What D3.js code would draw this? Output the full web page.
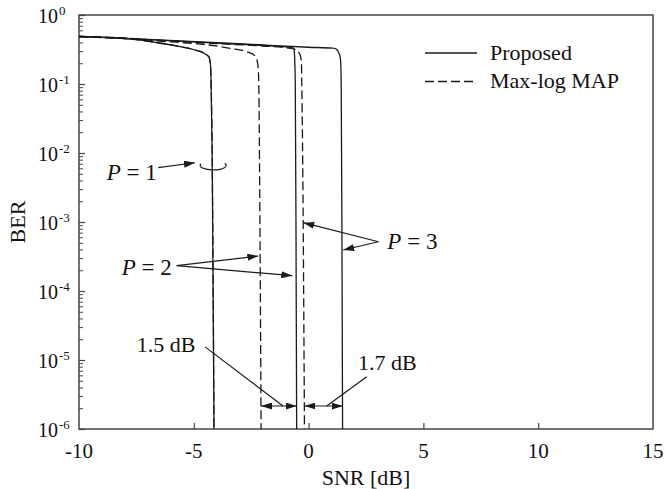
<!DOCTYPE html>
<html>
<head>
<meta charset="utf-8">
<script src="https://cdn.jsdelivr.net/npm/d3@7"></script>
<style>
  html, body { margin: 0; padding: 0; background: #fff; }
  svg { display: block; }
  text { font-family: "Liberation Serif", "Times New Roman", serif; fill: #111; }
</style>
</head>
<body>
<svg id="chart" width="665" height="489"></svg>
<script>
// Axis ticks
const snrTicks = [-10, -5, 0, 5, 10, 15];
const berTickExps = [0, -1, -2, -3, -4, -5, -6];

// BER versus SNR [dB] curves (P = number of parallel paths)
// P = 1: proposed and Max-log MAP coincide
const snrP1 = [-10, -7.8, -6.5, -5.6, -4.95, -4.5, -4.34, -4.28, -4.25, -4.2, -4.12];
const berP1 = [0.485, 0.45, 0.393, 0.347, 0.311, 0.272, 0.246, 0.2, 0.12, 1e-2, 1e-6];

const snrP2MaxLog = [-10, -8, -6.34, -5.6, -4.73, -3.42, -2.70, -2.33, -2.23, -2.19, -2.17, -2.12, -2.07];
const berP2MaxLog = [0.485, 0.464, 0.415, 0.40, 0.38, 0.329, 0.294, 0.255, 0.208, 0.16, 0.1, 1e-3, 1e-6];

const snrP2Proposed = [-10, -7, -4, -2, -1, -0.67, -0.62, -0.6, -0.58, -0.55, -0.52];
const berP2Proposed = [0.49, 0.44, 0.392, 0.362, 0.345, 0.333, 0.29, 0.2, 0.1, 1e-3, 1e-6];

const snrP3MaxLog = [-10, -7, -4, -2, -1, -0.55, -0.42, -0.35, -0.31, -0.30, -0.26, -0.18];
const berP3MaxLog = [0.485, 0.44, 0.385, 0.355, 0.335, 0.315, 0.285, 0.25, 0.2, 0.12, 1e-2, 1e-6];

const snrP3Proposed = [-10, -7, -4, -2, 0, 1.06, 1.22, 1.32, 1.37, 1.40, 1.42, 1.45, 1.48];
const berP3Proposed = [0.495, 0.444, 0.398, 0.368, 0.341, 0.33, 0.318, 0.28, 0.25, 0.2, 0.1, 1e-3, 1e-6];

const legendLabels = ["Proposed", "Max-log MAP"];

// ---------------------------------------------------------------
const svg = d3.select("#chart");
const plot = { left: 79, right: 653, top: 15, bottom: 429 };

const x = d3.scaleLinear().domain([-10, 15]).range([plot.left, plot.right]);
const y = d3.scaleLog().domain([1e-6, 1]).range([plot.bottom, plot.top]);
const yExp = e => y(Math.pow(10, e));   // position from log10(BER)

const ink = "#1a1a1a";
const frameInk = "#444";

// arrowhead marker
const defs = svg.append("defs");
defs.append("marker")
  .attr("id", "head")
  .attr("markerUnits", "userSpaceOnUse")
  .attr("viewBox", "0 0 11 7")
  .attr("markerWidth", 11).attr("markerHeight", 7)
  .attr("refX", 11).attr("refY", 3.5)
  .attr("orient", "auto-start-reverse")
  .append("path").attr("d", "M0,0 L11,3.5 L0,7 Z").attr("fill", ink);

defs.append("clipPath").attr("id", "clip")
  .append("rect")
  .attr("x", plot.left).attr("y", plot.top)
  .attr("width", plot.right - plot.left).attr("height", plot.bottom - plot.top);

// ---- axes: inward ticks on bottom and left ----
const xAxis = d3.axisBottom(x)
  .tickValues(snrTicks.slice(1, -1))
  .tickSizeInner(-6).tickSizeOuter(0)
  .tickFormat("");
svg.append("g").attr("transform", `translate(0,${plot.bottom})`).call(xAxis)
  .call(g => g.select(".domain").remove())
  .call(g => g.selectAll("line").attr("stroke", frameInk).attr("stroke-width", 1.2));

const majorBer = berTickExps.map(e => Math.pow(10, e));
const minorBer = [];
berTickExps.slice(1).forEach(e => {
  for (let m = 2; m <= 9; m++) minorBer.push(m * Math.pow(10, e));
});

svg.append("g").attr("transform", `translate(${plot.left},0)`)
  .call(d3.axisLeft(y).tickValues(majorBer).tickSizeInner(-6).tickSizeOuter(0).tickFormat(""))
  .call(g => g.select(".domain").remove())
  .call(g => g.selectAll("line").attr("stroke", frameInk).attr("stroke-width", 1.2));

svg.append("g").attr("transform", `translate(${plot.left},0)`)
  .call(d3.axisLeft(y).tickValues(minorBer).tickSizeInner(-4).tickSizeOuter(0).tickFormat(""))
  .call(g => g.select(".domain").remove())
  .call(g => g.selectAll("line").attr("stroke", frameInk).attr("stroke-width", 1));

// frame
svg.append("rect")
  .attr("x", plot.left).attr("y", plot.top)
  .attr("width", plot.right - plot.left).attr("height", plot.bottom - plot.top)
  .attr("fill", "none").attr("stroke", frameInk).attr("stroke-width", 1.5);

// x tick labels
svg.append("g").selectAll("text").data(snrTicks).join("text")
  .attr("x", d => x(d)).attr("y", plot.bottom + 29)
  .attr("text-anchor", "middle").attr("font-size", 21)
  .text(d => String(d));

// y tick labels: 10 with superscript exponent
const yLab = svg.append("g").selectAll("text").data(berTickExps).join("text")
  .attr("x", 38).attr("y", d => yExp(d) + 8)
  .attr("font-size", 20);
yLab.append("tspan").text("10");
yLab.append("tspan").attr("font-size", 13).attr("dx", 1).attr("dy", -8.5).text(d => String(d));

// axis titles
svg.append("text")
  .attr("x", (plot.left + plot.right) / 2).attr("y", 485)
  .attr("text-anchor", "middle").attr("font-size", 22)
  .text("SNR [dB]");
svg.append("text")
  .attr("transform", `translate(25,${(plot.top + plot.bottom) / 2}) rotate(-90)`)
  .attr("text-anchor", "middle").attr("font-size", 22)
  .text("BER");

// ---- curves ----
const series = [
  { snr: snrP1, ber: berP1, dashed: true },
  { snr: snrP2MaxLog, ber: berP2MaxLog, dashed: true },
  { snr: snrP3MaxLog, ber: berP3MaxLog, dashed: true },
  { snr: snrP1, ber: berP1, dashed: false },
  { snr: snrP2Proposed, ber: berP2Proposed, dashed: false },
  { snr: snrP3Proposed, ber: berP3Proposed, dashed: false }
];
const line = d3.line().x(d => x(d[0])).y(d => y(d[1])).curve(d3.curveMonotoneX);

svg.append("g").attr("clip-path", "url(#clip)")
  .selectAll("path").data(series).join("path")
  .attr("d", s => line(d3.zip(s.snr, s.ber)))
  .attr("fill", "none").attr("stroke", ink).attr("stroke-width", 1.3)
  .attr("stroke-dasharray", s => s.dashed ? "9,4" : null);

// ---- legend ----
const legend = svg.append("g");
legendLabels.forEach((lab, i) => {
  const ly = 53 + i * 28.5;
  legend.append("line")
    .attr("x1", 425).attr("x2", 477).attr("y1", ly).attr("y2", ly)
    .attr("stroke", ink).attr("stroke-width", 1.3)
    .attr("stroke-dasharray", i === 1 ? "9,4" : null);
  legend.append("text").attr("x", 490).attr("y", ly + 6.5)
    .attr("font-size", 22).text(lab);
});

// ---- annotations (positions in dB / log10 BER) ----
const ann = svg.append("g");
function pLabel(sx, e, num) {
  const t = ann.append("text").attr("x", x(sx)).attr("y", yExp(e)).attr("font-size", 23);
  t.append("tspan").attr("font-style", "italic").text("P");
  t.append("tspan").text(" = " + num);
}
function arrow(s0, e0, s1, e1, both) {
  ann.append("line")
    .attr("x1", x(s0)).attr("y1", yExp(e0)).attr("x2", x(s1)).attr("y2", yExp(e1))
    .attr("stroke", ink).attr("stroke-width", 1.2)
    .attr("marker-end", "url(#head)")
    .attr("marker-start", both ? "url(#head)" : null);
}
function leader(s0, e0, s1, e1) {
  ann.append("line")
    .attr("x1", x(s0)).attr("y1", yExp(e0)).attr("x2", x(s1)).attr("y2", yExp(e1))
    .attr("stroke", ink).attr("stroke-width", 1.2);
}

// P = 1
pLabel(-8.79, -2.39, 1);
arrow(-6.55, -2.213, -4.95, -2.141);
{
  const cx = x(-4.18), cy = yExp(-2.126), rx = 13, ry = 4.5;
  const a0 = Math.PI * 1.15, a1 = -Math.PI * 0.12;
  const p0 = [cx + rx * Math.cos(a0), cy - ry * Math.sin(a0)];
  const p1 = [cx + rx * Math.cos(a1), cy - ry * Math.sin(a1)];
  ann.append("path")
    .attr("d", `M${p0[0]},${p0[1]} A${rx},${ry} 0 1 0 ${p1[0]},${p1[1]}`)
    .attr("fill", "none").attr("stroke", ink).attr("stroke-width", 1.2);
}

// P = 2
pLabel(-8.14, -3.768, 2);
arrow(-5.745, -3.633, -2.19, -3.493);
arrow(-5.745, -3.633, -0.71, -3.778);

// P = 3
pLabel(3.43, -3.391, 3);
arrow(3.04, -3.286, -0.23, -3.01);
arrow(3.04, -3.286, 1.51, -3.406);

// SNR gaps at BER = 1e-6 level
const gapE = -5.667;
const p2Gap = [snrP2MaxLog[snrP2MaxLog.length - 1], snrP2Proposed[snrP2Proposed.length - 1]];
const p3Gap = [snrP3MaxLog[snrP3MaxLog.length - 1], snrP3Proposed[snrP3Proposed.length - 1]];
arrow(p2Gap[0], gapE, p2Gap[1], gapE, true);
arrow(p3Gap[0], gapE, p3Gap[1], gapE, true);

ann.append("text").attr("x", x(-7.49)).attr("y", yExp(-4.88)).attr("font-size", 22)
  .text(d3.format(".1f")(p2Gap[1] - p2Gap[0]) + " dB");
leader(-4.51, -4.81, -1.115, gapE);

ann.append("text").attr("x", x(2.15)).attr("y", yExp(-5.145)).attr("font-size", 22)
  .text(d3.format(".1f")(p3Gap[1] - p3Gap[0]) + " dB");
leader(2.53, -5.242, 0.79, gapE);
</script>
</body>
</html>
